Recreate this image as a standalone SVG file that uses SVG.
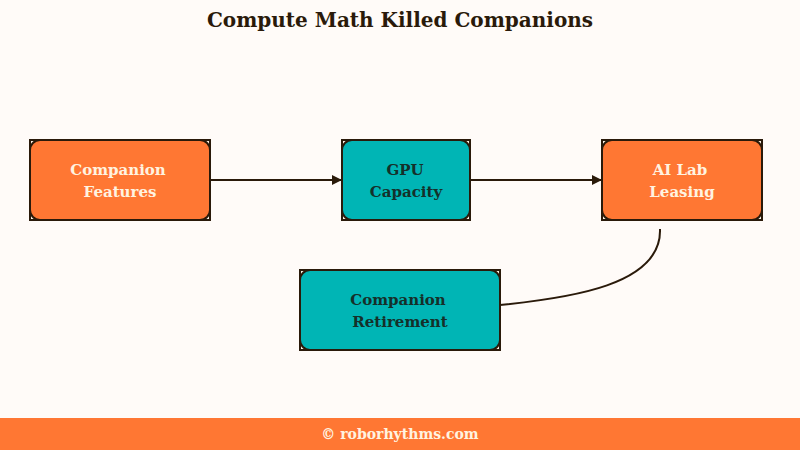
<svg xmlns="http://www.w3.org/2000/svg" width="800" height="450" viewBox="0 0 800 450">
<defs>
<style>
.frame{fill:#fdf3e6;stroke:#2a1a0a;stroke-width:2}
.orange{fill:#ff7733;stroke:#2a1a0a;stroke-width:2}
.teal{fill:#00b5b5;stroke:#2a1a0a;stroke-width:2}
.lt{font-family:"DejaVu Serif",serif;font-weight:bold;font-size:15px;fill:#fff3e0;text-anchor:middle}
.dt{font-family:"DejaVu Serif",serif;font-weight:bold;font-size:15px;fill:#15302a;text-anchor:middle}
.edge{fill:none;stroke:#2a1a0a;stroke-width:2}
</style>
<marker id="ah" markerWidth="10" markerHeight="10" refX="9" refY="5" orient="auto" markerUnits="userSpaceOnUse">
<path d="M0,0 L10,5 L0,10 Z" fill="#2a1a0a"/>
</marker>
</defs>
<rect width="800" height="450" fill="#fffbf8"/>
<text x="400" y="27" text-anchor="middle" font-family="DejaVu Serif,serif" font-weight="bold" font-size="20" fill="#2a1a0a">Compute Math Killed Companions</text>
<g id="connectors">
<line class="edge" x1="211" y1="180" x2="341" y2="180" marker-end="url(#ah)"/>
<line class="edge" x1="471" y1="180" x2="601" y2="180" marker-end="url(#ah)"/>
<path class="edge" d="M660,229 C662,285 570,298 500,305"/>
</g>
<g id="n1">
<rect class="frame" x="30" y="140" width="180" height="80"/>
<rect class="orange" x="30" y="140" width="180" height="80" rx="10"/>
<text class="lt" x="118" y="175">Companion</text>
<text class="lt" x="120" y="197">Features</text>
</g>
<g id="n2">
<rect class="frame" x="342" y="140" width="128" height="80"/>
<rect class="teal" x="342" y="140" width="128" height="80" rx="10"/>
<text class="dt" x="405" y="175">GPU</text>
<text class="dt" x="406" y="197">Capacity</text>
</g>
<g id="n3">
<rect class="frame" x="602" y="140" width="160" height="80"/>
<rect class="orange" x="602" y="140" width="160" height="80" rx="10"/>
<text class="lt" x="680" y="175">AI Lab</text>
<text class="lt" x="682" y="197">Leasing</text>
</g>
<g id="n4">
<rect class="frame" x="300" y="270" width="200" height="80"/>
<rect class="teal" x="300" y="270" width="200" height="80" rx="10"/>
<text class="dt" x="398" y="305">Companion</text>
<text class="dt" x="400" y="327">Retirement</text>
</g>
<rect x="0" y="418" width="800" height="32" fill="#ff7733"/>
<text x="400" y="439" text-anchor="middle" font-family="DejaVu Serif,serif" font-weight="bold" font-size="14" fill="#fff3e0">© roborhythms.com</text>
</svg>
